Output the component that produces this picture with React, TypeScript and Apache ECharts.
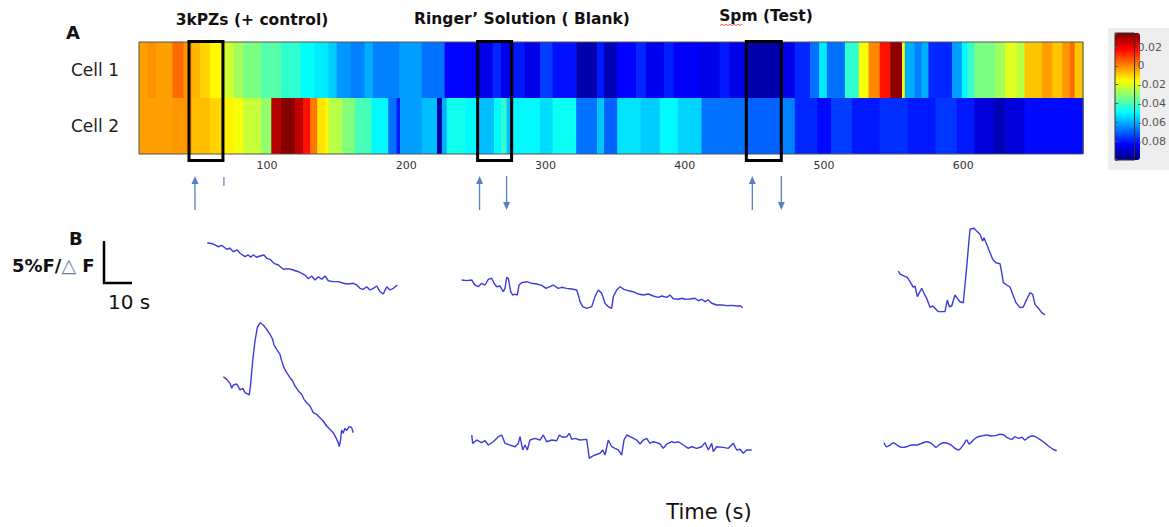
import React, { useEffect, useRef } from 'react';
import * as echarts from 'echarts';

// ---------- Panel A: heatmap data (time segments in s, dF/F values) ----------
const START_TIME = 8;
const END_TIME = 686;
const cellNames = ['Cell 2', 'Cell 1']; // bottom row first

const cell1Starts = [8, 14, 20, 32, 40, 46, 52, 59, 69, 76, 83, 95.5, 110, 124, 134, 144, 150, 160, 170, 176, 195, 211, 227.5, 252, 262, 268, 277, 285, 296, 305, 322, 337, 342, 351, 365, 372, 385, 392, 412, 425, 432, 443, 468.5, 479, 490, 496.5, 502, 515, 525, 532, 540, 547.5, 556, 558, 565, 570, 575, 592, 599, 603, 608, 623, 630, 639, 644, 656.5, 664, 671, 676.5, 680];
const cell1Values = [-0.003, -0.001, -0.003, 0.004, -0.002, -0.006, -0.01, -0.015, -0.022, -0.028, -0.033, -0.038, -0.043, -0.049, -0.052, -0.056, -0.063, -0.066, -0.06, -0.066, -0.062, -0.068, -0.083, -0.086, -0.078, -0.086, -0.08, -0.086, -0.075, -0.081, -0.094, -0.08, -0.093, -0.083, -0.078, -0.085, -0.079, -0.084, -0.086, -0.08, -0.086, -0.094, -0.086, -0.078, -0.068, -0.052, -0.068, -0.043, -0.016, 0.0, 0.016, 0.033, -0.018, -0.06, -0.066, -0.06, -0.078, -0.062, -0.05, -0.042, -0.033, -0.028, -0.02, -0.025, -0.008, -0.003, -0.008, -0.002, 0.004, -0.008];

const cell2Starts = [8, 32, 46, 59, 69, 76, 83, 95.5, 103, 110, 120, 126, 131, 136, 142, 144, 154, 163, 175, 187, 193, 195.5, 211, 222, 225.5, 229, 242, 252, 263, 268, 272, 277, 296, 305, 322, 337, 342, 351.5, 368, 382, 395, 412, 443, 468.5, 479, 495, 505, 520, 540, 560, 580, 595, 608, 622, 630, 644];
const cell2Values = [-0.003, -0.002, -0.007, -0.01, -0.014, -0.017, -0.023, -0.03, 0.028, 0.034, 0.026, 0.016, 0.002, -0.012, -0.015, -0.025, -0.032, -0.04, -0.05, -0.068, -0.08, -0.062, -0.058, -0.095, -0.06, -0.047, -0.05, -0.058, -0.05, -0.043, -0.058, -0.05, -0.054, -0.048, -0.068, -0.057, -0.07, -0.053, -0.056, -0.05, -0.055, -0.068, -0.07, -0.066, -0.078, -0.082, -0.075, -0.08, -0.077, -0.08, -0.076, -0.08, -0.088, -0.093, -0.088, -0.082];

const colorMin = -0.1;
const colorMax = 0.035;
const colorTickStep = 0.02;
const jetColors = ['#00007f', '#0000ff', '#007fff', '#00ffff', '#7fff7f', '#ffff00', '#ff7f00', '#ff0000', '#7f0000'];

const stimulusNames = ['3kPZs (+ control)', 'Ringer\u2019 Solution ( Blank)', 'Spm (Test)'];
const stimulusStart = [43.9, 251.2, 444.2];
const stimulusEnd = [68.3, 275.6, 469.3];
const arrowTimes = [48.2, 69.0, 252.6, 272.0, 448.5, 469.3];
const arrowDirs = [1, 0, 1, -1, 1, -1];

// ---------- Panel B: traces (time in s, %dF/F) ----------
const trace1Time = [0, 2.07, 3.79, 4.97, 6.69, 7.83, 8.97, 10.34, 11.28, 13.0, 14.14, 14.97, 15.86, 17.03, 18.17, 19.55, 20.48, 21.62, 23.0, 24.48, 26.21, 27.93, 29.66, 31.38, 32.55, 33.69, 34.83, 36.0, 37.14, 38.28, 39.45, 40.59, 41.72, 43.45, 45.17, 46.9, 48.62, 50.34, 51.52, 52.66, 53.79, 54.97, 56.1, 57.24, 58.41, 59.55, 60.69, 61.86, 63.0, 64.14, 65.52];
const trace1Value = [5.56, 5.41, 5.09, 5.26, 4.79, 4.91, 4.51, 4.71, 4.32, 3.92, 4.12, 3.85, 4.15, 3.85, 4.0, 4.12, 3.73, 3.61, 3.14, 2.94, 2.44, 2.51, 2.35, 2.15, 1.96, 1.76, 1.33, 1.65, 1.18, 1.56, 1.26, 1.65, 1.09, 0.98, 0.98, 0.79, 0.71, 0.79, 0.59, 0.2, 0.08, 0.39, 0, 0.2, 0.47, -0.2, -0.47, 0.39, 0, 0.2, 0.59];

const trace2Time = [0, 1.17, 2.31, 2.9, 3.45, 4.62, 5.17, 5.76, 6.69, 7.48, 8.97, 9.45, 10.14, 10.93, 11.72, 12.66, 13.79, 14.97, 16.1, 17.03, 17.48, 18.41, 19.55, 20.14, 20.93, 21.86, 23.0, 23.93, 24.72, 25.86, 27.03, 27.83, 28.76, 29.9, 31.03, 32.17, 33.31, 34.45, 35.62, 36.76, 37.9, 38.83, 39.62, 39.97, 40.45, 40.79, 41.34, 41.93, 42.52, 43.41, 44.24, 44.79];
const trace2Value = [8.27, 7.96, 7.49, 6.91, 7.29, 7.41, 7.1, 6.71, 6.9, 6.39, 6.12, 7.49, 10.12, 12.47, 14.04, 14.62, 14.35, 13.84, 13.26, 12.67, 12.0, 11.49, 10.9, 10.12, 9.33, 8.74, 8.15, 7.76, 7.18, 6.59, 6.2, 5.61, 5.21, 4.82, 4.04, 3.85, 3.45, 3.06, 2.47, 2.08, 1.69, 1.1, 0.51, 0.04, 0.82, 2.0, 1.61, 2.2, 1.92, 2.39, 2.31, 1.68];

const trace3Time = [0, 1.72, 3.45, 4.59, 5.72, 6.9, 8.03, 9.17, 10.34, 11.14, 12.07, 13.21, 14.34, 14.93, 15.52, 16.07, 16.9, 17.59, 18.38, 19.17, 19.76, 20.69, 22.41, 24.14, 25.86, 27.59, 29.07, 30.45, 31.59, 33.31, 34.48, 36.21, 37.93, 39.66, 40.21, 40.79, 41.72, 43.1, 44.83, 45.97, 47.1, 48.28, 49.41, 50.55, 51.72, 52.28, 53.45, 54.59, 55.97, 57.45, 59.17, 60.9, 62.62, 64.34, 66.07, 67.79, 68.97, 70.69, 71.83, 72.97, 74.69, 75.86, 77.0, 78.72, 80.45, 81.59, 82.76, 83.9, 85.03, 86.21, 87.93, 89.66, 91.38, 93.1, 94.83, 96.21, 96.9];
const trace3Value = [3.53, 3.45, 3.53, 2.94, 2.74, 3.14, 2.94, 3.61, 3.73, 3.14, 2.74, 2.82, 2.15, 2.55, 3.85, 3.73, 2.15, 1.76, 1.88, 1.76, 2.94, 3.22, 3.33, 3.14, 3.06, 2.9, 2.55, 2.74, 2.94, 2.55, 2.67, 2.55, 2.47, 2.35, 1.76, 0.98, 0.39, 0.2, 0.39, 1.57, 2.35, 1.96, 0.79, 0.39, 0.2, 1.57, 2.35, 2.74, 2.43, 2.27, 2.15, 1.88, 1.76, 1.88, 1.65, 1.49, 1.65, 1.49, 1.76, 1.33, 1.26, 1.38, 1.26, 1.29, 1.38, 1.09, 1.26, 0.98, 1.18, 0.79, 0.59, 0.59, 0.51, 0.55, 0.47, 0.47, 0.27];

const trace4Time = [0, 0.34, 1.72, 3.45, 4.59, 5.72, 7.45, 9.17, 10.34, 11.48, 13.21, 14.93, 16.07, 16.66, 17.59, 18.38, 19.17, 20.1, 21.83, 23.55, 24.69, 25.86, 27.59, 29.31, 30.21, 31.38, 32.76, 33.66, 34.48, 35.62, 37.34, 39.66, 40.55, 41.38, 42.52, 44.24, 45.17, 45.97, 47.1, 48.28, 49.41, 50.55, 51.72, 52.52, 53.45, 55.17, 56.9, 58.03, 59.17, 60.34, 61.48, 62.62, 63.79, 64.93, 66.07, 67.24, 68.97, 70.1, 71.24, 72.97, 74.69, 75.86, 77.59, 79.31, 80.45, 81.59, 82.76, 83.31, 84.48, 86.76, 88.48, 90.21, 91.38, 92.52, 93.66, 94.83, 96.55];
const trace4Value = [2.94, 1.96, 2.35, 2.04, 2.27, 1.76, 2.15, 2.74, 2.94, 1.96, 1.76, 1.56, 1.96, 2.74, 1.18, 1.76, 1.18, 2.35, 2.55, 2.35, 2.94, 2.15, 2.35, 2.27, 2.94, 2.67, 2.74, 3.14, 2.43, 2.55, 2.35, 2.43, 0.2, 0.39, 0.59, 0.79, 1.18, 0.59, 2.35, 1.56, 1.37, 1.18, 0.59, 2.35, 2.94, 2.67, 2.35, 1.88, 2.35, 2.55, 1.96, 2.15, 2.04, 1.88, 1.37, 1.88, 2.15, 2.04, 2.15, 1.76, 1.37, 1.56, 1.37, 1.56, 2.04, 1.18, 1.96, 0.98, 1.56, 1.49, 1.37, 1.96, 1.18, 1.26, 0.79, 1.18, 1.18];

const trace5Time = [0, 0.59, 1.97, 3.1, 4.03, 5.17, 5.76, 6.55, 7.48, 8.07, 8.86, 9.79, 10.93, 11.86, 12.66, 13.79, 14.97, 16.1, 16.9, 17.59, 18.41, 19.55, 20.34, 21.28, 22.41, 23.59, 24.72, 26.1, 27.03, 28.17, 29.1, 29.55, 30.48, 31.62, 32.55, 33.69, 35.07, 35.66, 36.21, 37.38, 38.52, 39.45, 40.59, 41.97, 43.1, 44.28, 45.41, 46.34, 47.14, 47.93, 48.62, 49.45, 50.59];
const trace5Value = [5.29, 4.94, 4.71, 4.55, 4.04, 3.38, 3.53, 2.27, 2.86, 3.26, 2.67, 2.08, 1.02, 1.18, 0.9, 0.51, 0.51, 0.51, 1.88, 1.09, 1.18, 2.47, 2.08, 1.68, 1.56, 5.8, 10.2, 10.32, 10.0, 9.61, 8.82, 9.21, 8.43, 7.45, 6.67, 6.27, 6.15, 5.1, 3.92, 3.65, 3.41, 2.55, 1.57, 0.98, 1.06, 1.96, 2.74, 2.55, 1.37, 1.06, 0.79, 0.39, 0.12];

const trace6Time = [0, 0.93, 2.07, 3.21, 4.93, 6.1, 7.83, 9.55, 11.28, 13.0, 14.72, 15.86, 17.0, 17.93, 19.31, 21.03, 22.76, 24.48, 25.62, 27.34, 28.52, 29.41, 30.59, 31.97, 33.69, 35.41, 37.14, 38.28, 40.0, 41.38, 42.31, 44.03, 45.17, 46.31, 47.48, 48.62, 49.76, 51.48, 53.21, 54.93, 56.66, 58.38, 59.55];
const trace6Value = [1.09, 0.62, 0.82, 1.09, 0.71, 0.55, 0.62, 0.82, 0.82, 1.02, 1.21, 1.09, 0.82, 0.55, 0.94, 1.09, 0.9, 0.43, 0.24, 0.82, 1.41, 0.94, 1.33, 1.73, 1.88, 2.0, 1.88, 1.92, 2.08, 2.0, 1.73, 1.49, 1.8, 1.61, 1.73, 1.41, 1.73, 1.88, 1.61, 1.21, 0.71, 0.32, 0.15];

// ---------- layout ----------
const FONT = '"DejaVu Sans", "Open Sans", sans-serif';
const PX_PER_S = 2.9;
const PX_PER_PCT = 8.5;
const TRACE_COLOR = '#3c3cd8';
const ARROW_COLOR = '#5b7fc7';

const traces = [
  { time: trace1Time, value: trace1Value, left: 207.3, zeroY: 290, yMin: -0.5, yMax: 5.6, smooth: false },
  { time: trace2Time, value: trace2Value, left: 223.3, zeroY: 447, yMin: 0, yMax: 14.7, smooth: false },
  { time: trace3Time, value: trace3Value, left: 461.7, zeroY: 310, yMin: 0, yMax: 3.9, smooth: false },
  { time: trace4Time, value: trace4Value, left: 471.7, zeroY: 460, yMin: 0, yMax: 3.2, smooth: false },
  { time: trace5Time, value: trace5Value, left: 898.3, zeroY: 316, yMin: 0, yMax: 10.4, smooth: false },
  { time: trace6Time, value: trace6Value, left: 884, zeroY: 452, yMin: 0, yMax: 2.1, smooth: 0.3 },
];

function segments(starts: number[], values: number[], row: number) {
  return starts.map((s, i) => [s, i + 1 < starts.length ? starts[i + 1] : END_TIME, row, values[i]]);
}

function buildOption(): any {
  const heatData = [...segments(cell2Starts, cell2Values, 0), ...segments(cell1Starts, cell1Values, 1)];
  const boxData = stimulusStart.map((s, i) => [s, stimulusEnd[i]]);
  const arrowData = arrowTimes.map((t, i) => [t, arrowDirs[i]]);

  const hiddenX = (gridIndex: number, min: number, max: number) => ({
    gridIndex, type: 'value', min, max, show: false, splitLine: { show: false },
  });
  const hiddenY = (gridIndex: number, min: number, max: number) => ({
    gridIndex, type: 'value', min, max, show: false, splitLine: { show: false },
  });

  const grid: any[] = [
    { left: 139, top: 42, width: 944, height: 112, show: true, borderColor: '#555', borderWidth: 1, backgroundColor: 'transparent', z: 3 },
    { left: 139, top: 40, width: 944, height: 122 },
    { left: 139, top: 176, width: 944, height: 34 },
    { left: 1115, top: 33, width: 25, height: 127, show: true, borderColor: '#333', borderWidth: 1, backgroundColor: 'transparent', z: 6 },
  ];
  const xAxis: any[] = [
    {
      gridIndex: 0, type: 'value', min: START_TIME, max: END_TIME, position: 'bottom', z: 5,
      axisLine: { show: false }, splitLine: { show: false },
      axisTick: { inside: true, length: 4, lineStyle: { color: '#333' } },
      axisLabel: { fontSize: 11, color: '#333', margin: 6, fontFamily: FONT, showMinLabel: false, showMaxLabel: false },
    },
    {
      gridIndex: 0, type: 'value', min: START_TIME, max: END_TIME, position: 'top', z: 5,
      axisLine: { show: false }, splitLine: { show: false },
      axisTick: { inside: true, length: 4, lineStyle: { color: '#333' } },
      axisLabel: { show: false },
    },
    hiddenX(1, START_TIME, END_TIME),
    hiddenX(2, START_TIME, END_TIME),
    hiddenX(3, 0, 1),
  ];
  const yAxis: any[] = [
    {
      gridIndex: 0, type: 'category', data: cellNames, z: 5,
      axisLine: { show: false },
      axisTick: { inside: true, length: 3, alignWithLabel: true, lineStyle: { color: '#555' } },
      axisLabel: { fontSize: 17, color: '#222', margin: 20, fontFamily: FONT },
    },
    hiddenY(1, 0, 1),
    hiddenY(2, 0, 1),
    {
      gridIndex: 3, type: 'value', min: colorMin, max: colorMax, interval: colorTickStep, position: 'right', z: 7,
      axisLine: { show: false }, splitLine: { show: false },
      axisTick: { show: true, length: 3, lineStyle: { color: '#555' } },
      axisLabel: {
        fontSize: 11, color: '#555', margin: 3, fontFamily: FONT, showMaxLabel: false,
        formatter: (v: number) => (Math.abs(v - colorMin) < 1e-9 ? '' : Math.abs(v) < 1e-9 ? '0' : v.toFixed(2)),
      },
    },
  ];

  const series: any[] = [
    {
      type: 'custom', xAxisIndex: 0, yAxisIndex: 0, data: heatData, silent: true,
      encode: { x: [0, 1], y: 2 },
      renderItem: (_p: any, api: any) => {
        const s = api.coord([api.value(0), api.value(2)]);
        const e = api.coord([api.value(1), api.value(2)]);
        const h = api.size([0, 1])[1];
        return {
          type: 'rect',
          shape: { x: s[0], y: s[1] - h / 2, width: e[0] - s[0] + 0.6, height: h },
          style: { fill: api.visual('color') },
        };
      },
    },
    {
      type: 'custom', xAxisIndex: 2, yAxisIndex: 1, data: boxData, silent: true, z: 6,
      encode: { x: [0, 1] },
      renderItem: (_p: any, api: any) => {
        const p0 = api.coord([api.value(0), 1]);
        const p1 = api.coord([api.value(1), 0]);
        return {
          type: 'rect',
          shape: { x: p0[0], y: p0[1] + 1.5, width: p1[0] - p0[0], height: p1[1] - p0[1] - 3 },
          style: { fill: 'none', stroke: '#000', lineWidth: 3 },
        };
      },
    },
    {
      type: 'custom', xAxisIndex: 3, yAxisIndex: 2, data: arrowData, silent: true,
      encode: { x: 0 },
      renderItem: (_p: any, api: any) => {
        const x = api.coord([api.value(0), 0])[0];
        const yTop = api.coord([START_TIME, 1])[1];
        const yBot = api.coord([START_TIME, 0])[1];
        const dir = api.value(1);
        if (dir === 0) {
          return { type: 'line', shape: { x1: x, y1: yTop + 1, x2: x, y2: yTop + 10 }, style: { stroke: ARROW_COLOR, lineWidth: 1.2 } };
        }
        const tipY = dir > 0 ? yTop : yBot;
        const baseY = dir > 0 ? yTop + 8 : yBot - 8;
        return {
          type: 'group',
          children: [
            { type: 'line', shape: { x1: x, y1: dir > 0 ? baseY : yTop, x2: x, y2: dir > 0 ? yBot : baseY }, style: { stroke: ARROW_COLOR, lineWidth: 1.3 } },
            { type: 'polygon', shape: { points: [[x, tipY], [x - 3.5, baseY], [x + 3.5, baseY]] }, style: { fill: ARROW_COLOR } },
          ],
        };
      },
    },
  ];

  traces.forEach((tr) => {
    const tMax = tr.time[tr.time.length - 1];
    const gi = grid.length;
    grid.push({
      left: tr.left,
      top: tr.zeroY - tr.yMax * PX_PER_PCT,
      width: tMax * PX_PER_S,
      height: (tr.yMax - tr.yMin) * PX_PER_PCT,
    });
    const xi = xAxis.length;
    xAxis.push(hiddenX(gi, 0, tMax));
    const yi = yAxis.length;
    yAxis.push(hiddenY(gi, tr.yMin, tr.yMax));
    series.push({
      type: 'line', xAxisIndex: xi, yAxisIndex: yi, silent: true, showSymbol: false, clip: false,
      smooth: tr.smooth,
      data: tr.time.map((t, j) => [t, tr.value[j]]),
      lineStyle: { color: TRACE_COLOR, width: 1.4 },
    });
  });

  const txt = (text: string, x: number, y: number, font: string, align = 'left', fill = '#111') => ({
    type: 'text', x, y, silent: true,
    style: { text, x: 0, y: 0, font, fill, textAlign: align, textVerticalAlign: 'middle', align, verticalAlign: 'middle' },
  });

  const titleCenters = [252, 522, 766];
  const titleYs = [20, 19, 16];

  const graphic: any[] = [
    txt('A', 66, 32, `bold 18px ${FONT}`),
    txt('B', 69, 238, `bold 18px ${FONT}`),
    ...stimulusNames.map((n, i) => txt(n, titleCenters[i], titleYs[i], `bold 15.5px ${FONT}`, 'center')),
    {
      type: 'polyline', silent: true,
      shape: { points: [[720, 25.5], [722, 24.3], [724, 25.5], [726, 24.3], [728, 25.5], [730, 24.3], [732, 25.5], [734, 24.3], [736, 25.5], [738, 24.3], [740, 25.5], [742, 24.3]] },
      style: { stroke: '#e03030', lineWidth: 0.8, fill: 'none' },
    },
    {
      type: 'text', x: 12, y: 265, silent: true,
      style: {
        text: '{a|5%F/}{b|\u25B3}{a| F}', x: 0, y: 0,
        textVerticalAlign: 'middle', verticalAlign: 'middle',
        rich: {
          a: { font: `bold 18px ${FONT}`, fill: '#111', color: '#111' },
          b: { font: `19px "DejaVu Sans", sans-serif`, fill: '#6f7ea6', color: '#6f7ea6' },
        },
      },
    },
    txt('10 s', 108, 302, `20px ${FONT}`),
    txt('Time (s)', 709, 512, `21px ${FONT}`, 'center'),
    {
      type: 'polyline', silent: true,
      shape: { points: [[104, 241], [104, 283], [132, 283]] },
      style: { stroke: '#000', lineWidth: 2.5, fill: 'none' },
    },
  ];

  return {
    animation: false,
    backgroundColor: '#ffffff',
    textStyle: { fontFamily: FONT },
    grid, xAxis, yAxis, series, graphic,
    visualMap: {
      type: 'continuous', min: colorMin, max: colorMax, dimension: 3, seriesIndex: 0,
      inRange: { color: jetColors },
      calculable: false, orient: 'vertical',
      left: 1108, top: 28, itemWidth: 25, itemHeight: 127,
      padding: [5, 29, 10, 7], backgroundColor: '#eeeeee',
    },
  };
}

export default function App() {
  const ref = useRef<HTMLDivElement>(null);
  useEffect(() => {
    const chart = echarts.init(ref.current!, undefined, { renderer: 'svg' });
    chart.setOption(buildOption());
    return () => chart.dispose();
  }, []);
  return (
    <div
      ref={ref}
      style={{ position: 'fixed', left: 0, top: 0, width: 1169, height: 527, background: '#fff' }}
    />
  );
}
